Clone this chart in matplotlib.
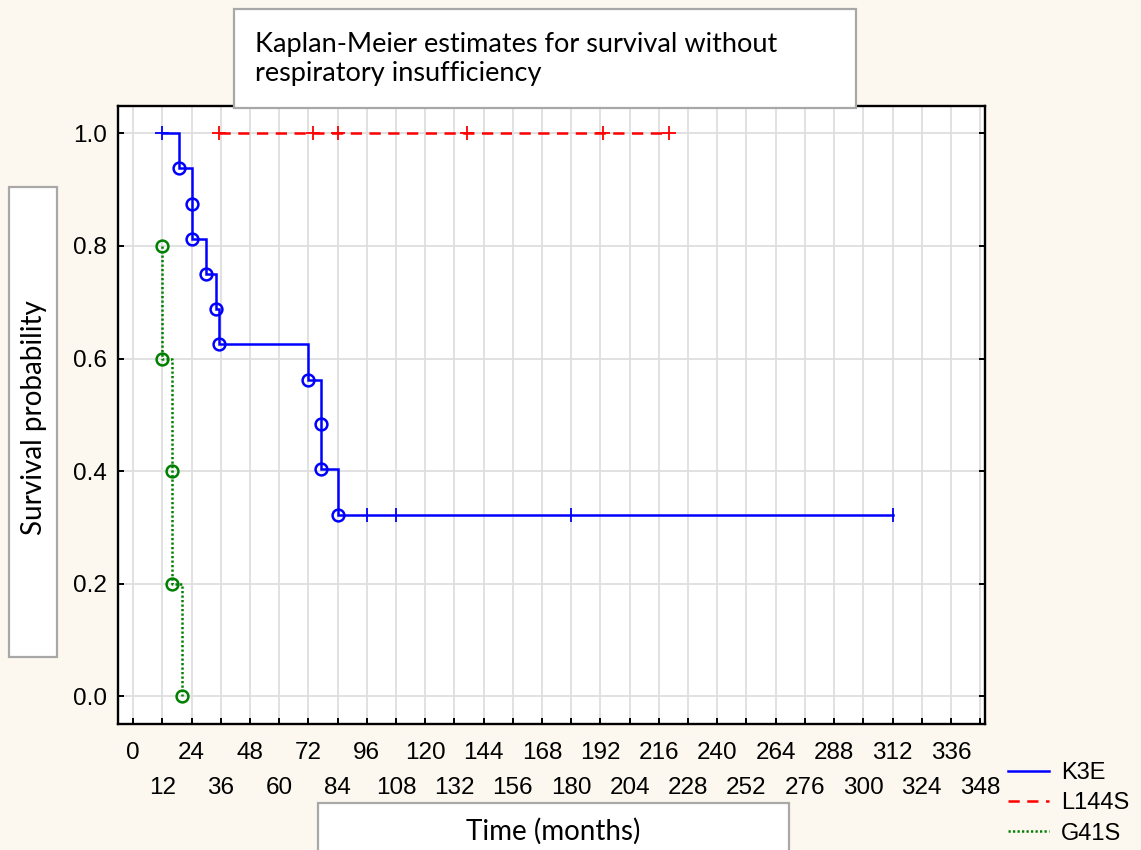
import matplotlib
matplotlib.use("Agg")
import matplotlib.pyplot as plt
from matplotlib.lines import Line2D
from matplotlib.patches import Rectangle

# ---------------- data ----------------
k3e_step_times = [12, 19, 24, 24, 30, 34, 35.5, 72, 77, 77, 84]
k3e_step_surv = [1.0, 0.9375, 0.875, 0.8125, 0.75, 0.6875, 0.625, 0.5625, 0.484, 0.403, 0.322]
k3e_start_censor = [12]
k3e_censor_times = [96, 108, 180, 312]

l144s_censor_times = [35.5, 74, 84, 137, 193, 220]
l144s_surv = 1.0

g41s_step_times = [12, 12, 16, 16, 20]
g41s_step_surv = [0.8, 0.6, 0.4, 0.2, 0.0]

x_ticks = list(range(0, 349, 12))
y_ticks = [0.0, 0.2, 0.4, 0.6, 0.8, 1.0]
series_names = ["K3E", "L144S", "G41S"]

title_text = "Kaplan-Meier estimates for survival without\nrespiratory insufficiency"
xlabel_text = "Time (months)"
ylabel_text = "Survival probability"

# ---------------- styling ----------------
BLUE = "#0000FF"
RED = "#FF0000"
GREEN = "#008000"
BG = "#FDF8EF"
W, H = 1141, 850
LW = 1.8


def step_path(times, surv, end=None):
    xs = [times[0]]
    ys = [surv[0]]
    for t, s in zip(times[1:], surv[1:]):
        xs += [t, t]
        ys += [ys[-1], s]
    if end is not None:
        xs.append(end)
        ys.append(ys[-1])
    return xs, ys


fig = plt.figure(figsize=(W / 100, H / 100), dpi=100, facecolor=BG)
ax = fig.add_axes([118 / W, 1 - 724 / H, (985 - 118) / W, (724 - 105.7) / H])
ax.set_facecolor("white")

ax.set_xlim(-6.2, 350)
ax.set_ylim(-0.049, 1.049)

# grid
for t in x_ticks:
    ax.axvline(t, color="#DEDEDE", lw=1.3, zorder=0.5)
for v in y_ticks:
    ax.axhline(v, color="#DEDEDE", lw=1.3, zorder=0.5)

# K3E
xs, ys = step_path(k3e_step_times, k3e_step_surv, end=k3e_censor_times[-1])
ax.plot(xs, ys, color=BLUE, lw=LW, zorder=3, solid_joinstyle="miter")
ax.plot(k3e_step_times[1:], k3e_step_surv[1:], ls="none", marker="o", ms=8.5,
        mfc="none", mec=BLUE, mew=1.8, zorder=4)
ax.plot(k3e_start_censor, [k3e_step_surv[0]], ls="none", marker="+", ms=10,
        mec=BLUE, mew=1.3, zorder=4)
ax.plot(k3e_censor_times, [k3e_step_surv[-1]] * len(k3e_censor_times), ls="none",
        marker="|", ms=10, mec=BLUE, mew=1.3, zorder=4)

# L144S
ax.plot([l144s_censor_times[0], l144s_censor_times[-1]], [l144s_surv, l144s_surv],
        color=RED, lw=LW, ls=(0, (4.5, 3.0)), zorder=3)
ax.plot(l144s_censor_times, [l144s_surv] * len(l144s_censor_times), ls="none",
        marker="+", ms=10, mec=RED, mew=1.3, zorder=4)

# G41S
xs, ys = step_path(g41s_step_times, g41s_step_surv)
ax.plot(xs, ys, color=GREEN, lw=LW, ls=(0, (0.9, 0.9)), zorder=3)
ax.plot(g41s_step_times, g41s_step_surv, ls="none", marker="o", ms=8.5,
        mfc="none", mec=GREEN, mew=1.8, zorder=4)

# ticks
ax.set_xticks(x_ticks[0::2])
ax.set_xticklabels([str(t) for t in x_ticks[0::2]])
ax.set_xticks(x_ticks[1::2], minor=True)
ax.set_xticklabels([str(t) for t in x_ticks[1::2]], minor=True)
ax.set_yticks(y_ticks)
ax.set_yticklabels([f"{v:.1f}" for v in y_ticks])
for lab in ax.get_xticklabels(which="both") + ax.get_yticklabels():
    lab.set_fontfamily("Liberation Sans")
    lab.set_fontsize(17.5)
ax.tick_params(axis="x", which="major", direction="in", length=4, width=1.4, pad=13)
ax.tick_params(axis="x", which="minor", direction="in", length=4, width=1.4, pad=38)
ax.tick_params(axis="y", direction="in", length=4, width=1.4, pad=8, right=True)
for sp in ax.spines.values():
    sp.set_linewidth(1.7)
    sp.set_color("black")

# boxes
def fig_box(x0, y0, x1, y1):
    r = Rectangle((x0 / W, 1 - y1 / H), (x1 - x0) / W, (y1 - y0) / H,
                  transform=fig.transFigure, facecolor="white",
                  edgecolor="#A8A8A8", lw=1.6, zorder=10)
    fig.patches.append(r)

fig_box(234, 9, 856, 108)
fig.text(255 / W, 1 - 59 / H, title_text, ha="left", va="center",
         fontfamily="Lato", fontsize=19.5, linespacing=1.2, zorder=11)

fig_box(9, 187, 57, 657)
fig.text(34 / W, 1 - 418 / H, ylabel_text, ha="center", va="center", rotation=90,
         fontfamily="Lato", fontsize=20, zorder=11)

fig_box(318, 803, 789, 852)
fig.text(553 / W, 1 - 831 / H, xlabel_text, ha="center", va="center",
         fontfamily="Lato", fontsize=20, zorder=11)

# legend
handles = [Line2D([], [], color=BLUE, lw=LW),
           Line2D([], [], color=RED, lw=LW, ls=(0, (4.5, 3.0))),
           Line2D([], [], color=GREEN, lw=LW, ls=(0, (0.9, 0.9)))]
fig.legend(handles, series_names, loc="upper left",
           bbox_to_anchor=(1008 / W, 1 - 762 / H), frameon=False,
           prop={"family": "Liberation Sans", "size": 17},
           handlelength=1.75, handletextpad=0.5, labelspacing=0.35,
           borderpad=0, borderaxespad=0)

fig.savefig("out.png", dpi=100, facecolor=BG)
